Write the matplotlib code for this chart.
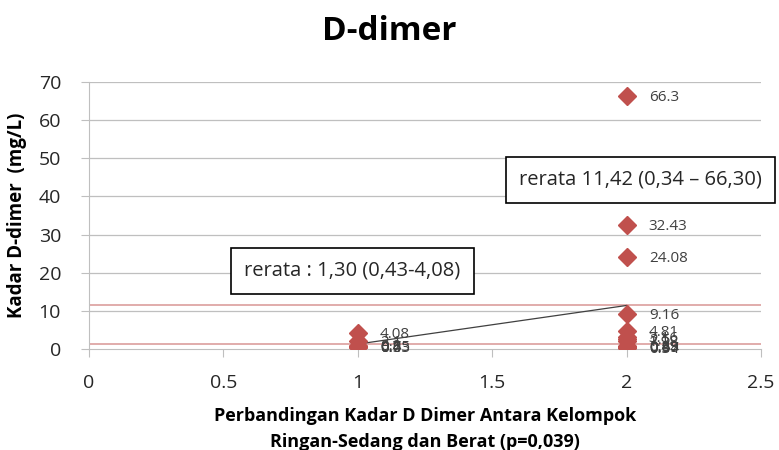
import matplotlib
matplotlib.use("Agg")
from matplotlib import pyplot as plt

plt.rcParams['font.family'] = ['Open Sans', 'DejaVu Sans']

# data
ringan_x = 1
ringan_vals = [4.08, 2.1, 0.9, 0.75, 0.6, 0.5, 0.43]
berat_x = 2
berat_vals = [66.3, 32.43, 24.08, 9.16, 4.81, 3.16, 2.50, 1.98, 0.89, 0.6, 0.57, 0.45, 0.34]
mean_ringan = 1.30
mean_berat = 11.42
x_ticks = [0, 0.5, 1, 1.5, 2, 2.5]
y_ticks = [0, 10, 20, 30, 40, 50, 60, 70]

red = '#C0504D'
grid = '#BFBFBF'

fig = plt.figure(figsize=(7.79, 4.5), dpi=100)
ax = fig.add_axes([0.114, 0.2244, 0.863, 0.5933])

for v in y_ticks[1:]:
    ax.axhline(v, color=grid, lw=0.9, zorder=0)
ax.axhline(mean_berat, color='#D99694', lw=1.1, zorder=1)
ax.axhline(mean_ringan, color='#D99694', lw=1.1, zorder=1)

ax.plot([ringan_x, berat_x], [mean_ringan, mean_berat], color='#404040', lw=0.9, zorder=2)

for xv, vals in [(ringan_x, ringan_vals), (berat_x, berat_vals)]:
    ax.plot([xv] * len(vals), vals, linestyle='none', marker='D', ms=9,
            color=red, markeredgecolor=red, zorder=3)
    for v in vals:
        ax.annotate(f"{v:g}", (xv, v), xytext=(16, -1),
                    textcoords='offset points', va='center', ha='left',
                    fontsize=11, color='#404040')

ax.set_xlim(0, 2.5)
ax.set_ylim(0, 70)
ax.set_xticks(x_ticks)
ax.set_xticklabels(['0', '0.5', '1', '1.5', '2', '2.5'])
ax.set_yticks(y_ticks)
for s in ['top', 'right']:
    ax.spines[s].set_visible(False)
ax.spines['left'].set_color(grid)
ax.spines['bottom'].set_color(grid)
ax.tick_params(axis='both', colors=grid, labelcolor='#262626', labelsize=14, length=6)
ax.tick_params(axis='x', pad=12)
ax.tick_params(axis='y', pad=14)

ax.set_ylabel('Kadar D-dimer  (mg/L)', fontsize=13.5, fontweight='bold', labelpad=8)
ax.set_xlabel('Perbandingan Kadar D Dimer Antara Kelompok\nRingan-Sedang dan Berat (p=0,039)',
              fontsize=13, fontweight='bold', labelpad=11, linespacing=1.55)
fig.text(0.5, 0.93, 'D-dimer', fontsize=24, fontweight='bold', ha='center', va='center')

box = dict(boxstyle='square,pad=0.65', fc='white', ec='black', lw=1.2)
ax.text(0.98, 20.5, 'rerata : 1,30 (0,43-4,08)', ha='center', va='center',
        fontsize=14.5, color='#262626', bbox=box, zorder=5)
ax.text(2.05, 44.4, 'rerata 11,42 (0,34 – 66,30)', ha='center', va='center',
        fontsize=14.5, color='#262626', bbox=box, zorder=5, clip_on=False)

fig.savefig('out.png', dpi=100)
